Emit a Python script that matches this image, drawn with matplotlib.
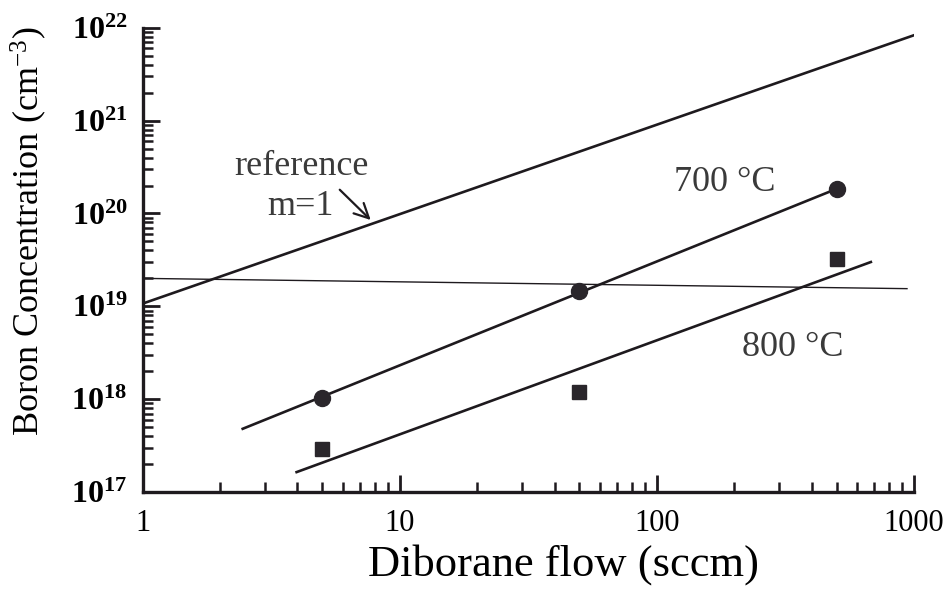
import numpy as np
import matplotlib
matplotlib.use("Agg")
import matplotlib.pyplot as plt
from matplotlib.ticker import LogLocator, NullFormatter, FixedLocator

plt.rcParams['font.family'] = ['Liberation Serif', 'DejaVu Serif']
plt.rcParams['mathtext.default'] = 'regular'

# measured boron concentrations
flow = [5, 50, 500]
conc_700 = [1.03e18, 1.47e19, 1.84e20]
conc_800 = [2.9e17, 1.2e18, 3.2e19]

# fitted lines (end points)
fit_700_x = [2.45, 500]
fit_700_y = [4.8e17, 1.84e20]
fit_800_x = [3.97, 680]
fit_800_y = [1.64e17, 3.0e19]

# slope-one reference line and the near-flat line
ref_x = [1, 1000]
ref_y = [1.07e19, 8.3e21]
flat_x = [1, 940]
flat_y = [2.0e19, 1.55e19]

ytick_vals = [1e17, 1e18, 1e19, 1e20, 1e21, 1e22]
ytick_labels = ['10$^{17}$', '10$^{18}$', '10$^{19}$', '10$^{20}$', '10$^{21}$', '10$^{22}$']
xtick_vals = [1, 10, 100, 1000]
xtick_labels = ['1', '10', '100', '1000']

ink = '#1e1a1e'
txt = '#3a3a3a'
fig = plt.figure(figsize=(9.51, 5.90), dpi=100)
ax = fig.add_axes([0.150, 0.166, 0.811, 0.787])
ax.set_xscale('log')
ax.set_yscale('log')
ax.set_xlim(1, 1000)
ax.set_ylim(1e17, 1e22)

ax.plot(ref_x, ref_y, color=ink, lw=1.9)
ax.plot(flat_x, flat_y, color=ink, lw=1.0)
ax.plot(fit_700_x, fit_700_y, color=ink, lw=1.9)
ax.plot(fit_800_x, fit_800_y, color=ink, lw=1.9)
ax.plot(flow, conc_700, 'o', color='#2a262b', ms=11.5, mec='#2a262b')
ax.plot(flow, conc_800, 's', color='#2a262b', ms=9.5, mec='#2a262b')

# labels inside the plot
ax.text(4.16, 3.2e20, 'reference', ha='center', va='center', fontsize=26, color=txt)
ax.text(4.1, 1.18e20, 'm=1', ha='center', va='center', fontsize=26, color=txt)
ax.annotate('', xy=(7.85, 8.1e19), xytext=(5.74, 1.89e20),
            arrowprops=dict(arrowstyle='->', color=ink, lw=1.6,
                            mutation_scale=26))
ax.text(184, 2.14e20, '700 °C', ha='center', va='center', fontsize=26, color=txt)
ax.text(338, 3.6e18, '800 °C', ha='center', va='center', fontsize=26, color=txt)

for side in ['top', 'right']:
    ax.spines[side].set_visible(False)
for side in ['left', 'bottom']:
    ax.spines[side].set_linewidth(2.4)
    ax.spines[side].set_color(ink)

ax.yaxis.set_major_locator(FixedLocator(ytick_vals))
ax.set_yticklabels(ytick_labels, fontweight='bold')
ax.xaxis.set_major_locator(FixedLocator(xtick_vals))
ax.set_xticklabels(xtick_labels)
ax.xaxis.set_minor_locator(LogLocator(base=10, subs=np.arange(2, 10), numticks=20))
ax.yaxis.set_minor_locator(LogLocator(base=10, subs=np.arange(2, 10), numticks=20))
ax.xaxis.set_minor_formatter(NullFormatter())
ax.yaxis.set_minor_formatter(NullFormatter())
ax.tick_params(which='major', direction='in', length=12, width=2, color=ink,
               labelsize=22, labelcolor='black')
ax.tick_params(axis='y', which='major', labelsize=23, pad=11)
ax.tick_params(axis='x', which='major', pad=12)
ax.tick_params(which='minor', direction='in', length=7, width=1.8, color=ink)

ax.set_xlabel('Diborane flow (sccm)', fontsize=32)
ax.xaxis.set_label_coords(0.546, -0.112)
ax.set_ylabel('Boron Concentration (cm$^{-3}$)', fontsize=26)
ax.yaxis.set_label_coords(-0.122, 0.5625)

fig.savefig('out.png', dpi=100)
